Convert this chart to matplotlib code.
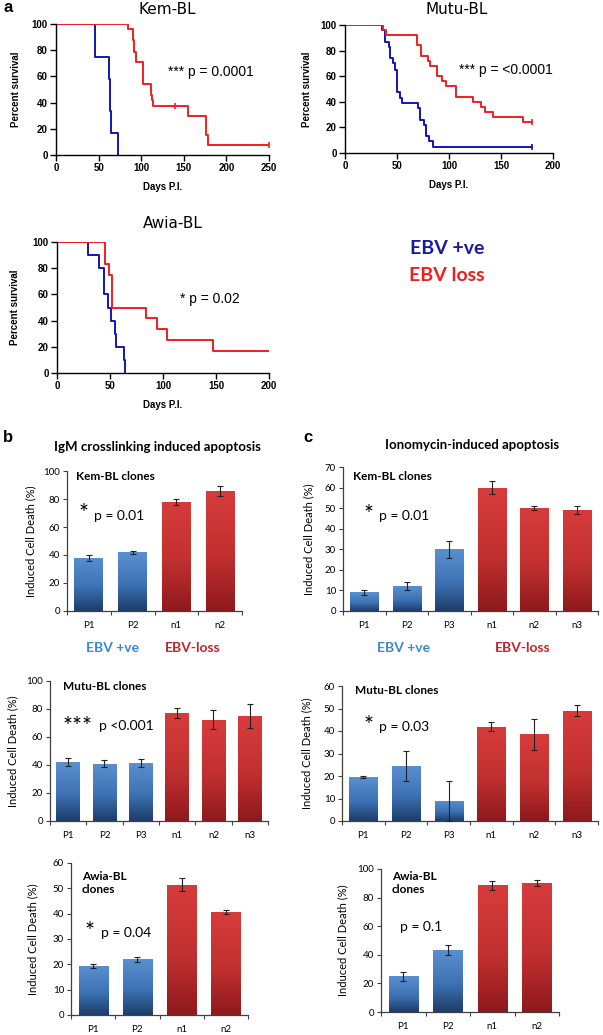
import numpy as np
import matplotlib
matplotlib.use('Agg')
from matplotlib import pyplot as plt
from matplotlib.colors import LinearSegmentedColormap

W, H = 603, 1035

# ---- panel a: Kaplan-Meier data (days, percent survival) ----
kem_pos_t = [0, 46, 62, 63, 64, 73]
kem_pos_s = [100, 75, 58.3, 33.3, 16.7, 0]
kem_loss_t = [0, 84, 90, 92, 93.5, 102, 111, 113, 114, 155, 176, 178, 250]
kem_loss_s = [100, 96, 88, 79, 71, 54, 46, 42, 37.5, 30, 15, 7.5, 7.5]
kem_cens_t = [140, 250]
kem_cens_s = [37.5, 7.5]

mutu_pos_t = [0, 36, 38, 42, 43, 46, 48, 50, 53, 55, 70, 72, 76, 78, 81, 85, 180]
mutu_pos_s = [100, 96, 87, 83, 74, 70, 65, 48, 43, 39, 35, 26, 22, 13, 9, 4.3, 4.3]
mutu_loss_t = [0, 37, 39, 69, 73, 80, 82, 88, 93, 97, 107, 123, 131, 135, 142, 171, 180]
mutu_loss_s = [100, 96, 92, 84, 76, 72, 68, 60, 56, 52, 44, 40, 36, 32, 28, 24, 24]

awia_pos_t = [0, 29, 40, 44, 48, 51, 55, 56, 63, 64]
awia_pos_s = [100, 90, 80, 60, 50, 40, 30, 20, 10, 0]
awia_loss_t = [0, 45, 49, 52, 84, 94, 104, 147, 200]
awia_loss_s = [100, 83.3, 75, 50, 41.7, 33.3, 25, 16.7, 16.7]

# ---- panels b, c: induced cell death (%) ----
cats_4 = ['P1', 'P2', 'n1', 'n2']
cats_6 = ['P1', 'P2', 'P3', 'n1', 'n2', 'n3']
kem_igm = [38, 42, 78, 86]
kem_igm_err = [2, 1, 2, 3.5]
kem_iono = [9, 12, 30, 60, 50, 49]
kem_iono_err = [1, 2, 4, 3, 1, 2]
mutu_igm = [42, 41, 41.5, 77, 72.5, 75]
mutu_igm_err = [3, 2.5, 3, 3.5, 7, 8.5]
mutu_iono = [19.5, 24.5, 9, 42, 38.5, 49]
mutu_iono_err = [0.6, 6.5, 9, 1.8, 7, 2.5]
awia_igm = [19.5, 22, 51.5, 40.5]
awia_igm_err = [0.8, 1, 2.5, 0.8]
awia_iono = [25, 43.5, 88.5, 90]
awia_iono_err = [3, 3.5, 3, 2]

KM_BLUE = '#1414b4'
KM_RED = '#f02020'
blue_cm = LinearSegmentedColormap.from_list('b', [(0, '#1c3d69'), (0.45, '#3d72b4'), (1, '#5a8fd0')])
red_cm = LinearSegmentedColormap.from_list('r', [(0, '#8e191d'), (0.45, '#c13030'), (1, '#d73c3c')])
ARIAL = 'Liberation Sans'
CAL = 'Lato'

fig = plt.figure(figsize=(W / 100, H / 100), dpi=100)


def px_axes(l, t, r, b):
    return fig.add_axes([l / W, 1 - b / H, (r - l) / W, (b - t) / H])


def ftext(x, y, s, **kw):
    kw.setdefault('ha', 'left')
    kw.setdefault('va', 'center')
    fig.text(x / W, 1 - y / H, s, **kw)


def km_panel(box, pos_t, pos_s, loss_t, loss_s, xmax, title, title_xy, ptxt, pxy, ylab_x):
    ax = px_axes(*box)
    ax.step(pos_t, pos_s, where='post', color=KM_BLUE, lw=1.4)
    ax.step(loss_t, loss_s, where='post', color=KM_RED, lw=1.4)
    ax.set_xlim(0, xmax)
    ax.set_ylim(0, 100)
    ax.set_xticks(np.arange(0, xmax + 1, 50))
    ax.set_yticks(np.arange(0, 101, 20))
    for s in ['top', 'right']:
        ax.spines[s].set_visible(False)
    for s in ['left', 'bottom']:
        ax.spines[s].set_linewidth(1.0)
    ax.tick_params(length=4, width=1.0, pad=2, labelsize=7)
    for lab in ax.get_xticklabels() + ax.get_yticklabels():
        lab.set_fontfamily(ARIAL)
        lab.set_fontweight('bold')
    ax.set_xlabel('Days P.I.', family=ARIAL, weight='bold', fontsize=7, labelpad=6)
    ftext(ylab_x, (box[1] + box[3]) / 2, 'Percent survival', family=ARIAL, weight='bold',
          fontsize=7, rotation=90, ha='center')
    ftext(title_xy[0], title_xy[1], title, ha='center', family='DejaVu Sans', fontsize=11)
    ftext(pxy[0], pxy[1], ptxt, family=ARIAL, fontsize=10)
    return ax


ax = km_panel((56, 24, 269, 155), kem_pos_t, kem_pos_s, kem_loss_t, kem_loss_s, 250,
              'Kem-BL', (167, 9), '*** p = 0.0001', (168, 72), 16)
ax.plot(kem_cens_t, kem_cens_s, ls='none', marker='|', color=KM_RED, ms=4, mew=1.2)
ax = km_panel((345, 25, 553, 153), mutu_pos_t, mutu_pos_s, mutu_loss_t, mutu_loss_s, 200,
              'Mutu-BL', (457, 9), '*** p = <0.0001', (459, 70), 307)
ax.plot(mutu_pos_t[-1], mutu_pos_s[-1], marker='|', color=KM_BLUE, ms=4, mew=1.2)
ax.plot(mutu_loss_t[-1], mutu_loss_s[-1], marker='|', color=KM_RED, ms=4, mew=1.2)
km_panel((57, 242, 269, 373), awia_pos_t, awia_pos_s, awia_loss_t, awia_loss_s, 200,
         'Awia-BL', (173, 223), '* p = 0.02', (180, 299), 15)

ftext(3, 8, 'a', family=ARIAL, weight='bold', fontsize=12)
ftext(447, 249, 'EBV +ve', ha='center', family=CAL, weight='bold', fontsize=14, color='#1a1aa0')
ftext(447, 276, 'EBV loss', ha='center', family=CAL, weight='bold', fontsize=14, color='#f01e1e')

grad = np.linspace(0, 1, 256).reshape(-1, 1)


def bar_panel(box, cats, vals, errs, ymax, ystep, ylab_x):
    ax = px_axes(*box)
    x = np.arange(len(cats))
    bars = ax.bar(x, vals, width=0.66, color='none', edgecolor='none', zorder=2)
    for bar, c in zip(bars, cats):
        x0, w, h = bar.get_x(), bar.get_width(), bar.get_height()
        cm = blue_cm if c.startswith('P') else red_cm
        im = ax.imshow(grad, extent=[x0, x0 + w, 0, h], origin='lower', aspect='auto',
                       cmap=cm, zorder=2)
        im.set_clip_path(bar)
    ax.errorbar(x, vals, yerr=errs, fmt='none', ecolor='#222222', elinewidth=0.8,
                capsize=2, capthick=0.8, zorder=5)
    ax.set_xlim(-0.5, len(cats) - 0.5)
    ax.set_ylim(0, ymax)
    ax.set_yticks(np.arange(0, ymax + 1, ystep))
    ax.set_xticks(np.arange(len(cats) + 1) - 0.5)
    ax.set_xticklabels([])
    ax.set_xticks(x, minor=True)
    ax.set_xticklabels(cats, minor=True)
    ax.tick_params(axis='x', which='major', length=3, width=0.8, color='#404040')
    ax.tick_params(axis='x', which='minor', length=0, pad=7, labelsize=7)
    ax.tick_params(axis='y', length=3, width=0.8, color='#404040', labelsize=7, pad=2)
    for lab in ax.get_xticklabels(minor=True) + ax.get_yticklabels():
        lab.set_fontfamily(CAL)
    for s in ['top', 'right']:
        ax.spines[s].set_visible(False)
    for s in ['left', 'bottom']:
        ax.spines[s].set_color('#404040')
        ax.spines[s].set_linewidth(0.9)
    ftext(ylab_x, (box[1] + box[3]) / 2, 'Induced Cell Death (%)', family=CAL,
          fontsize=8, rotation=90, ha='center')
    return ax


bar_panel((67, 471, 242, 611), cats_4, kem_igm, kem_igm_err, 100, 20, 31)
bar_panel((343, 467, 598, 611), cats_6, kem_iono, kem_iono_err, 70, 10, 309)
bar_panel((50, 681, 268, 821), cats_6, mutu_igm, mutu_igm_err, 100, 20, 13)
bar_panel((342, 686, 598, 821), cats_6, mutu_iono, mutu_iono_err, 60, 10, 307)
bar_panel((71, 863, 248, 1015), cats_4, awia_igm, awia_igm_err, 60, 10, 33)
bar_panel((381, 869, 559, 1012), cats_4, awia_iono, awia_iono_err, 100, 20, 343)

ftext(3, 438, 'b', family=ARIAL, weight='bold', fontsize=12)
ftext(303, 438, 'c', family=ARIAL, weight='bold', fontsize=12)
ftext(157, 447, 'IgM crosslinking induced apoptosis', ha='center', family=CAL,
      weight='bold', fontsize=9.5)
ftext(472, 445, 'Ionomycin-induced apoptosis', ha='center', family=CAL,
      weight='bold', fontsize=9.5)

EBV_B = '#3a88d0'
EBV_R = '#c0262c'
for xb, xr in [(113, 193), (404, 523)]:
    ftext(xb, 648, 'EBV +ve', ha='center', family=CAL, weight='bold', fontsize=10, color=EBV_B)
    ftext(xr, 648, 'EBV-loss', ha='center', family=CAL, weight='bold', fontsize=10, color=EBV_R)

# clone labels and p-values
ftext(76, 477, 'Kem-BL clones', family=CAL, weight='bold', fontsize=8.5)
ftext(353, 477, 'Kem-BL clones', family=CAL, weight='bold', fontsize=8.5)
ftext(63, 686, 'Mutu-BL clones', family=CAL, weight='bold', fontsize=8.5)
ftext(355, 691, 'Mutu-BL clones', family=CAL, weight='bold', fontsize=8.5)
ftext(82, 883, 'Awia-BL\nclones', family=CAL, weight='bold', fontsize=8.5, linespacing=1.2)
ftext(392, 883, 'Awia-BL\nclones', family=CAL, weight='bold', fontsize=8.5, linespacing=1.2)

star = dict(family=CAL, fontsize=17, va='baseline', ha='center')
ftext(84, 520, '*', **star)
ftext(94, 516, 'p = 0.01', family=CAL, fontsize=10)
ftext(369, 521, '*', **star)
ftext(379, 516, 'p = 0.01', family=CAL, fontsize=10)
ftext(78, 733, '***', **star)
ftext(99, 726, 'p <0.001', family=CAL, fontsize=10)
ftext(369, 732, '*', **star)
ftext(379, 727, 'p = 0.03', family=CAL, fontsize=10)
ftext(90, 938, '*', **star)
ftext(101, 933, 'p = 0.04', family=CAL, fontsize=10)
ftext(400, 927, 'p = 0.1', family=CAL, fontsize=10)

fig.savefig('out.png', dpi=100)
